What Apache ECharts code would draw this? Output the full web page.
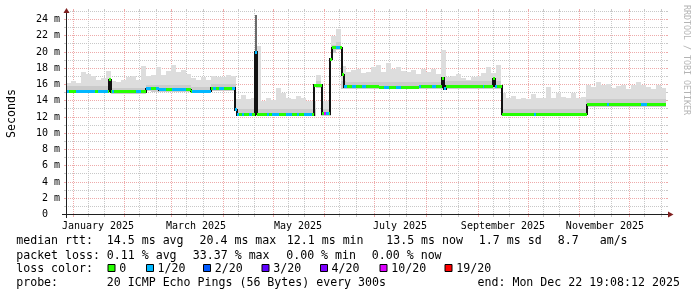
<!DOCTYPE html>
<html><head><meta charset="utf-8">
<script src="https://cdn.jsdelivr.net/npm/echarts@6/dist/echarts.min.js"></script>
<style>html,body{margin:0;padding:0;background:#fff}#c{width:697px;height:297px}</style>
</head><body><div id="c"></div><script>
// ================= DATA =================
const rangeStart = '2024-12-27T19:08';
const rangeEnd = '2025-12-22T19:08';
const smokeStepDays = 3;
// smoke (ping spread) per 3-day bin, milliseconds
const smokeHigh = [
16.2,16.4,16.2,17.6,17.3,17.0,16.6,16.8,17.7,16.4,
16.3,16.5,16.9,17.0,16.6,18.3,17.0,17.2,18.2,17.2,
17.7,18.4,17.6,17.8,17.3,16.8,16.6,16.9,16.5,17.0,
16.9,16.9,17.2,17.0,14.2,14.7,14.2,14.4,20.7,14.0,
14.4,14.1,15.6,14.9,14.4,14.2,14.6,14.3,14.0,14.0,
17.2,14.0,14.0,22.0,22.8,18.3,17.6,17.8,17.9,17.4,
17.6,18.2,18.4,17.6,18.6,17.9,18.1,17.7,17.5,17.8,
17.3,17.9,17.5,17.9,17.3,20.3,16.9,17.0,17.3,16.8,
16.6,16.9,17.0,17.4,18.1,17.4,18.4,15.0,14.4,14.6,
14.2,14.3,14.2,14.8,14.4,14.3,15.7,14.4,14.9,14.5,
14.4,15.0,14.3,14.5,15.9,15.7,16.3,15.9,16.1,15.6,
15.8,15.9,15.4,15.9,16.3,16.0,15.7,15.5,16.0,15.6];
const smokeMid = [
15.8,15.8,15.8,15.8,15.8,15.8,15.8,15.8,15.8,15.6,
15.6,15.6,15.6,15.6,15.6,15.6,16.0,15.9,15.9,15.9,
15.9,15.9,15.9,15.9,15.9,15.7,15.7,15.7,15.7,16.1,
16.1,16.1,16.1,16.1,13.0,13.0,13.0,13.0,13.0,13.0,
13.0,13.0,13.0,13.0,13.0,13.0,13.0,13.0,13.0,13.0,
16.4,13.0,13.0,20.9,21.2,16.4,16.3,16.3,16.3,16.3,
16.3,16.3,16.3,16.3,16.3,16.3,16.3,16.3,16.3,16.3,
16.3,16.3,16.3,16.3,16.3,16.3,16.4,16.4,16.4,16.4,
16.4,16.4,16.4,16.4,16.4,16.4,16.4,13.0,13.0,13.0,
13.0,13.0,13.0,13.0,13.0,13.0,13.0,13.0,13.0,13.0,
13.0,13.0,13.0,13.0,14.2,14.2,14.2,14.2,14.2,14.2,
14.2,14.2,14.2,14.2,14.2,14.2,14.2,14.2,14.2,14.2];
const smokeLow = [
14.9,14.9,14.9,14.9,14.9,14.9,14.9,14.9,14.9,14.85,
14.85,14.85,14.85,14.85,14.85,14.85,15.2,15.05,15.05,15.05,
15.05,15.05,15.05,15.05,15.05,14.9,14.9,14.9,14.9,15.25,
15.25,15.25,15.25,15.25,12.1,12.1,12.1,12.1,12.1,12.1,
12.1,12.1,12.1,12.1,12.1,12.1,12.1,12.1,12.1,12.1,
15.6,12.15,12.15,19.9,20.2,15.4,15.4,15.4,15.4,15.4,
15.4,15.4,15.4,15.4,15.4,15.4,15.4,15.4,15.4,15.4,
15.4,15.4,15.4,15.4,15.4,15.4,15.5,15.5,15.5,15.5,
15.5,15.5,15.5,15.5,15.5,15.5,15.5,12.1,12.1,12.1,
12.1,12.1,12.1,12.1,12.1,12.1,12.1,12.1,12.1,12.1,
12.1,12.1,12.1,12.1,13.2,13.25,13.25,13.25,13.25,13.25,
13.25,13.25,13.25,13.25,13.25,13.25,13.25,13.25,13.25,13.25];
// dense spike of all pings
const peakStart = ['2025-04-20T05:00'];
const peakEnd = ['2025-04-21T10:00'];
const peakLow = [12.3];
const peakHigh = [24.6];
// median rtt (value holds from each time until the next)
const medianTimes = ['2024-12-27T19:08','2025-01-22T14:00','2025-01-23T19:00','2025-02-13T19:00','2025-02-21T14:00','2025-03-12T19:00','2025-03-24T19:00','2025-04-08T05:00','2025-04-09T10:00','2025-04-20T05:00','2025-04-21T10:00','2025-05-10T14:00','2025-05-25T14:00','2025-05-30T10:00','2025-06-04T05:00','2025-06-05T10:00','2025-06-11T10:00','2025-06-12T14:00','2025-07-03T14:00','2025-07-27T14:00','2025-08-10T10:00','2025-08-11T14:00','2025-08-12T19:00','2025-09-10T00:00','2025-09-11T05:00','2025-09-15T10:00','2025-11-05T10:00'];
const medianValues = [15.2,16.6,15.1,15.5,15.35,15.15,15.55,12.9,12.3,20.0,12.35,12.3,15.9,12.4,19.1,20.5,17.2,15.7,15.65,15.75,16.8,15.5,15.8,16.7,15.8,12.35,13.5];
// packet-loss periods (loss out of 20)
const lossStart = ['2024-12-27T19:08','2025-01-03T00:00','2025-01-16T00:00','2025-01-24T10:00','2025-02-07T19:00','2025-02-13T19:00','2025-02-19T19:00','2025-02-21T14:00','2025-03-01T10:00','2025-03-13T10:00','2025-03-26T00:00','2025-03-29T14:00','2025-04-06T10:00','2025-04-08T05:00','2025-04-09T10:00','2025-04-12T10:00','2025-04-16T14:00','2025-04-20T05:00','2025-04-27T10:00','2025-04-30T10:00','2025-05-08T19:00','2025-05-15T10:00','2025-05-19T14:00','2025-05-31T14:00','2025-06-01T19:00','2025-06-07T19:00','2025-06-12T14:00','2025-06-17T10:00','2025-06-23T10:00','2025-07-06T14:00','2025-07-13T19:00','2025-07-27T14:00','2025-08-04T10:00','2025-08-11T14:00','2025-09-04T00:00','2025-09-11T05:00','2025-10-04T14:00','2025-11-17T10:00','2025-12-07T19:00'];
const lossEnd = ['2024-12-29T12:00','2025-01-14T05:00','2025-01-22T00:00','2025-01-25T14:00','2025-02-10T19:00','2025-02-16T19:00','2025-02-21T14:00','2025-02-25T19:00','2025-03-09T19:00','2025-03-24T19:00','2025-03-27T19:00','2025-04-01T14:00','2025-04-08T05:00','2025-04-09T10:00','2025-04-10T14:00','2025-04-13T14:00','2025-04-18T10:00','2025-04-21T10:00','2025-04-28T14:00','2025-05-04T14:00','2025-05-12T10:00','2025-05-16T14:00','2025-05-24T10:00','2025-06-01T19:00','2025-06-03T14:00','2025-06-10T05:00','2025-06-14T10:00','2025-06-19T19:00','2025-06-25T19:00','2025-07-09T14:00','2025-07-16T19:00','2025-07-28T19:00','2025-08-06T19:00','2025-08-12T19:00','2025-09-04T14:00','2025-09-12T10:00','2025-10-05T19:00','2025-11-18T14:00','2025-12-11T10:00'];
const lossLevel = [1,1,1,1,1,1,1,1,1,1,1,1,1,1,1,1,1,1,1,1,1,1,1,10,1,1,1,1,1,1,1,1,1,1,1,1,1,1,1];
// axes
const yMin = 0, yMax = 25;
const yMajorValues = [2,4,6,8,10,12,14,16,18,20,22,24];
const yMinorValues = [1,3,5,7,9,11,13,15,17,19,21,23,25];
const monthStarts = ['2025-01-01','2025-02-01','2025-03-01','2025-04-01','2025-05-01','2025-06-01','2025-07-01','2025-08-01','2025-09-01','2025-10-01','2025-11-01','2025-12-01'];
const minorGridDays = ['2025-01-10','2025-01-20','2025-02-10','2025-02-20','2025-03-10','2025-03-20','2025-04-10','2025-04-20','2025-05-10','2025-05-20','2025-06-10','2025-06-20','2025-07-10','2025-07-20','2025-08-10','2025-08-20','2025-09-10','2025-09-20','2025-10-10','2025-10-20','2025-11-10','2025-11-20','2025-12-10','2025-12-20'];
const monthLabelTimes = ['2025-01-16','2025-03-16','2025-05-16','2025-07-16','2025-09-16','2025-11-16'];
const monthLabelTexts = ['January 2025','March 2025','May 2025','July 2025','September 2025','November 2025'];
// legend
const lossLegendLevels = [0,1,2,3,4,10,19];
const lossLegendTexts = ['0','1/20','2/20','3/20','4/20','10/20','19/20'];
const statsRtt = ['median rtt:','14.5 ms avg','20.4 ms max','12.1 ms min','13.5 ms now','1.7 ms sd','8.7   am/s'];
const statsLoss = ['packet loss:','0.11 % avg','33.37 % max','0.00 % min','0.00 % now'];
const probeText = ['probe:','20 ICMP Echo Pings (56 Bytes) every 300s','end: Mon Dec 22 19:08:12 2025'];

// ================= STYLE =================
const LOSS_COLORS = {0:'#26ff00',1:'#00b8ff',2:'#0059ff',3:'#5e00ff',4:'#7e00ff',10:'#dd00ff',19:'#ff0000'};
const MONO = 'DejaVu Sans Mono';

// ================= BUILD =================
const T = s => { const [d, tm] = s.split('T'); const [y, m, dd] = d.split('-').map(Number);
  const [h, mi] = (tm || '00:00').split(':').map(Number); return new Date(y, m - 1, dd, h, mi).getTime(); };
const DAY = 86400000;
const tStart = T(rangeStart), tEnd = T(rangeEnd);
const smokeData = smokeHigh.map((h, k) => [tStart + k * smokeStepDays * DAY, tStart + (k + 1) * smokeStepDays * DAY, smokeLow[k], smokeMid[k], h]);
const peakData = peakStart.map((s, i) => [T(s), T(peakEnd[i]), peakLow[i], peakHigh[i]]);
const mT = medianTimes.map(T);
const medianSegs = mT.map((t, i) => [t, i + 1 < mT.length ? mT[i + 1] : tEnd, medianValues[i], 0]);
const medianAt = t => { let v = medianValues[0]; for (let i = 0; i < mT.length; i++) if (mT[i] <= t) v = medianValues[i]; return v; };
const lossSegs = lossStart.map((s, i) => { const a = T(s), b = T(lossEnd[i]); return [a, b, medianAt((a + b) / 2), lossLevel[i]]; });
const steps = mT.slice(1).map((t, i) => [t, medianValues[i], medianValues[i + 1]]);

const crisp = v => Math.round(v - 0.5) + 0.5;

function vGrid(color) {
  return (p, api) => {
    const t = api.value(0);
    const b = api.coord([t, yMin]), a = api.coord([t, yMax]);
    const x = crisp(b[0]);
    return {type: 'group', children: [
      {type: 'line', shape: {x1: x, y1: Math.round(a[1]), x2: x, y2: Math.round(b[1])}, style: {stroke: color, lineWidth: 1, lineDash: [1, 1]}},
      {type: 'line', shape: {x1: x, y1: Math.round(b[1]), x2: x, y2: Math.round(b[1]) + 2}, style: {stroke: color, lineWidth: 1}},
      {type: 'line', shape: {x1: x, y1: Math.round(a[1]) - 2, x2: x, y2: Math.round(a[1])}, style: {stroke: color, lineWidth: 1}}
    ]};
  };
}
function hGrid(color) {
  return (p, api) => {
    const v = api.value(1);
    const l = api.coord([tStart, v]), r = api.coord([tEnd, v]);
    const y = crisp(l[1]);
    return {type: 'group', children: [
      {type: 'line', shape: {x1: Math.round(l[0]), y1: y, x2: Math.round(r[0]), y2: y}, style: {stroke: color, lineWidth: 1, lineDash: [1, 1]}},
      {type: 'line', shape: {x1: Math.round(l[0]) - 2, y1: y, x2: Math.round(l[0]), y2: y}, style: {stroke: color, lineWidth: 1}},
      {type: 'line', shape: {x1: Math.round(r[0]), y1: y, x2: Math.round(r[0]) + 2, y2: y}, style: {stroke: color, lineWidth: 1}}
    ]};
  };
}
const MINOR = '#c8c8c8', MAJOR = '#eeaaaa';

const series = [
  {type: 'custom', z: 1, silent: true, clip: false, encode: {x: 0, y: 1}, data: minorGridDays.map(s => [T(s), 0]), renderItem: vGrid(MINOR)},
  {type: 'custom', z: 1, silent: true, clip: false, encode: {x: 0, y: 1}, data: yMinorValues.map(v => [tStart, v]), renderItem: hGrid(MINOR)},
  {type: 'custom', z: 1, silent: true, clip: false, encode: {x: 0, y: 1}, data: monthStarts.map(s => [T(s), 0]), renderItem: vGrid(MAJOR)},
  {type: 'custom', z: 1, silent: true, clip: false, encode: {x: 0, y: 1}, data: yMajorValues.map(v => [tStart, v]), renderItem: hGrid(MAJOR)},
  {type: 'custom', z: 2, silent: true, encode: {x: [0, 1], y: [2, 4]}, data: smokeData,
    renderItem: (p, api) => {
      const a = api.coord([api.value(0), api.value(4)]), b = api.coord([api.value(1), api.value(2)]), m = api.coord([api.value(0), api.value(3)]);
      const x0 = Math.round(a[0]), x1 = Math.round(b[0]), yh = Math.round(a[1]), yl = Math.round(b[1]), ym = Math.round(m[1]);
      return {type: 'group', children: [
        {type: 'rect', shape: {x: x0, y: yh, width: x1 - x0, height: yl - yh}, style: {fill: '#dddddd'}},
        {type: 'rect', shape: {x: x0, y: ym, width: x1 - x0, height: yl - ym}, style: {fill: '#cbcbcb'}}
      ]};
    }},
  {type: 'custom', z: 3, silent: true, encode: {x: [0, 1], y: [2, 3]}, data: peakData,
    renderItem: (p, api) => {
      const a = api.coord([api.value(0), api.value(3)]), b = api.coord([api.value(1), api.value(2)]);
      return {type: 'rect', shape: {x: Math.round(a[0]), y: Math.round(a[1]), width: Math.max(2, Math.round(b[0]) - Math.round(a[0])), height: Math.round(b[1]) - Math.round(a[1])}, style: {fill: '#6a6a6a'}};
    }},
  {type: 'custom', z: 4, silent: true, encode: {x: 0, y: [1, 2]}, data: steps,
    renderItem: (p, api) => {
      const a = api.coord([api.value(0), api.value(1)]), b = api.coord([api.value(0), api.value(2)]);
      const x = Math.round(a[0]);
      const y0 = Math.round(Math.min(a[1], b[1])) - 1, y1 = Math.round(Math.max(a[1], b[1])) + 1;
      return {type: 'rect', shape: {x: x - 1, y: y0, width: 2, height: y1 - y0}, style: {fill: '#111111'}};
    }},
  {type: 'custom', z: 5, silent: true, encode: {x: [0, 1], y: 2}, data: medianSegs.concat(lossSegs),
    renderItem: (p, api) => {
      const a = api.coord([api.value(0), api.value(2)]), b = api.coord([api.value(1), api.value(2)]);
      const x0 = Math.round(a[0]), x1 = Math.round(b[0]);
      return {type: 'rect', shape: {x: x0, y: Math.round(a[1] - 1.5), width: Math.max(1, x1 - x0), height: 3}, style: {fill: LOSS_COLORS[api.value(3)]}};
    }},
  // month labels under the time axis, centred on mid-month
  {type: 'custom', z: 10, silent: true, clip: false, encode: {x: 0, y: 1}, data: monthLabelTimes.map((s, i) => [T(s), 0, i]),
    renderItem: (p, api) => {
      const a = api.coord([api.value(0), 0]);
      return {type: 'text', x: Math.round(a[0]), y: Math.round(a[1]) + 11, style: {text: monthLabelTexts[api.value(2)], fontFamily: MONO, fontSize: 10, fill: '#000', align: 'center', verticalAlign: 'middle'}};
    }}
];

const gfx = [];
const txt = (x, y, s, o) => gfx.push(Object.assign({type: 'text', x, y, silent: true, z: 100,
  style: {text: s, fontFamily: MONO, fontSize: 11.6, fill: '#000', align: 'left', verticalAlign: 'middle'}}, o || {}));
// axis lines and arrows
gfx.push({type: 'line', z: 50, silent: true, shape: {x1: 62, y1: 214.5, x2: 668, y2: 214.5}, style: {stroke: '#1f1f1f', lineWidth: 1}});
gfx.push({type: 'line', z: 50, silent: true, shape: {x1: 66.5, y1: 218, x2: 66.5, y2: 12}, style: {stroke: '#1f1f1f', lineWidth: 1}});
gfx.push({type: 'polygon', z: 51, silent: true, shape: {points: [[668, 211.5], [673.5, 214.5], [668, 217.5]]}, style: {fill: '#802020'}});
gfx.push({type: 'polygon', z: 51, silent: true, shape: {points: [[63.5, 13], [66.5, 8], [69.5, 13]]}, style: {fill: '#802020'}});
// y title and watermark
txt(11.5, 113.5, 'Seconds', {rotation: Math.PI / 2, style: {text: 'Seconds', fontFamily: MONO, fontSize: 11.6, fill: '#000', align: 'center', verticalAlign: 'middle'}});
txt(686, 5, 'RRDTOOL / TOBI OETIKER', {rotation: -Math.PI / 2, style: {text: 'RRDTOOL / TOBI OETIKER', fontFamily: MONO, fontSize: 8.3, fill: '#b4b4b4', align: 'left', verticalAlign: 'middle'}});
// legend lines
const rttX = [16.2, 106.8, 199.5, 286.8, 386.2, 478.8, 557.8];
statsRtt.forEach((s, i) => txt(rttX[i], 241, s));
const lossX = [16.2, 106.8, 192.8, 286.2, 371.8];
statsLoss.forEach((s, i) => txt(lossX[i], 255.5, s));
txt(16.2, 268.5, 'loss color:');
const boxX = [107.5, 146, 203, 261.5, 320, 379.5, 444.5];
const boxTextX = [119.3, 157.5, 214.8, 273.3, 331.5, 391.3, 456.3];
lossLegendLevels.forEach((lv, i) => {
  gfx.push({type: 'rect', z: 100, silent: true, shape: {x: boxX[i] + 0.5, y: 264.5, width: 7, height: 7}, style: {fill: LOSS_COLORS[lv], stroke: '#000', lineWidth: 1}});
  txt(boxTextX[i], 268.5, lossLegendTexts[i]);
});
const probeX = [16.2, 106.8, 477.5];
probeText.forEach((s, i) => txt(probeX[i], 283, s));

const chart = echarts.init(document.getElementById('c'), null, {renderer: 'canvas'});
chart.setOption({
  animation: false,
  backgroundColor: '#ffffff',
  grid: {left: 66, right: 31, top: 11.375, bottom: 82.5, outerBoundsMode: 'none'},
  xAxis: {type: 'time', min: tStart, max: tEnd,
    axisLine: {show: false}, axisTick: {show: false}, splitLine: {show: false}, axisLabel: {show: false}},
  yAxis: {type: 'value', min: yMin, max: yMax, interval: 1,
    axisLine: {show: false}, axisTick: {show: false}, splitLine: {show: false},
    axisLabel: {formatter: v => (v % 2 ? '' : (v === 0 ? '0  ' : v + ' m')), fontFamily: MONO, fontSize: 10, color: '#000', margin: 6}},
  series,
  graphic: gfx
});
</script></body></html>
